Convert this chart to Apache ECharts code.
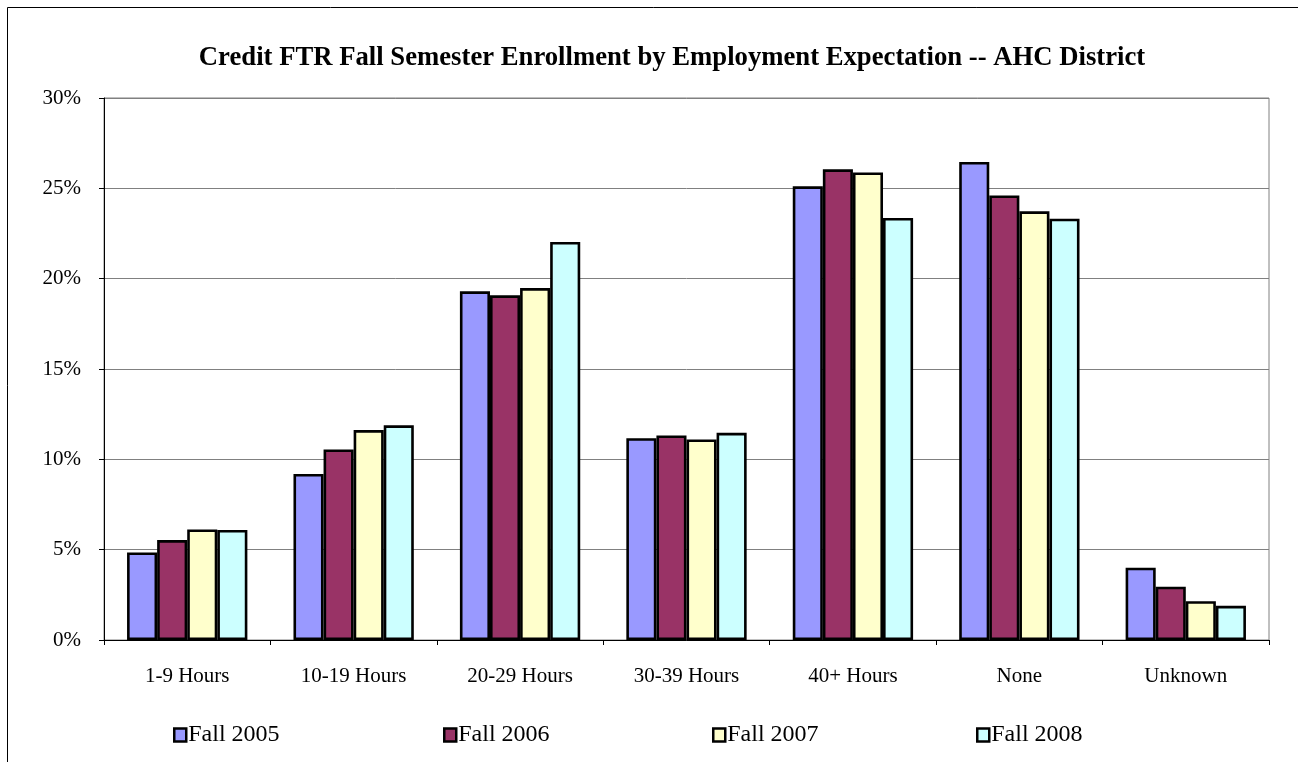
<!DOCTYPE html>
<html>
<head>
<meta charset="utf-8">
<script src="https://cdn.jsdelivr.net/npm/echarts@6/dist/echarts.min.js"></script>
<style>html,body{margin:0;padding:0;background:#fff}#c{width:1298px;height:762px}</style>
</head>
<body>
<div id="c"></div>
<script>
const categories = ['1-9 Hours','10-19 Hours','20-29 Hours','30-39 Hours','40+ Hours','None','Unknown'];
const fall2005 = [4.85, 9.19, 19.30, 11.17, 25.11, 26.46, 4.00];
const fall2006 = [5.53, 10.55, 19.08, 11.32, 26.05, 24.61, 2.95];
const fall2007 = [6.12, 11.62, 19.48, 11.10, 25.88, 23.73, 2.15];
const fall2008 = [6.09, 11.88, 22.03, 11.47, 23.36, 23.32, 1.89];
const seriesNames = ['Fall 2005','Fall 2006','Fall 2007','Fall 2008'];
const seriesColors = ['#9999FF','#993366','#FFFFCC','#CCFFFF'];
const yTicks = [0,5,10,15,20,25,30];

const font = 'Liberation Serif';
const chart = echarts.init(document.getElementById('c'));
const dataArr = [fall2005, fall2006, fall2007, fall2008];
const legendLeft = [173, 443, 712, 976];
chart.setOption({
  animation: false,
  backgroundColor: '#fff',
  textStyle: {fontFamily: font},
  graphic: [{type:'rect', shape:{x:7.5,y:7.5,width:1320,height:800}, style:{fill:'none',stroke:'#000',lineWidth:1}, silent:true}],
  title: {
    text: 'Credit FTR Fall Semester Enrollment by Employment Expectation -- AHC District',
    left: 667, textAlign: 'center', top: 40,
    textStyle: {fontFamily: font, fontSize: 26.7, fontWeight: 'bold', color: '#000'}
  },
  legend: seriesNames.map((n,i)=>({
    data:[{name:n, itemStyle:{borderColor:'#000', borderWidth:2.5}}],
    left: legendLeft[i], top: 723, padding:0, icon:'rect', itemWidth:12, itemHeight:13, itemGap:0,
    formatter: '{t|{name}}',
    textStyle:{fontFamily:font, fontSize:24, color:'#000', padding:[0,0,0,-3],
      rich:{t:{fontFamily:font, fontSize:24, color:'#000'}}},
    selectedMode:false
  })),
  grid: {left:104, right:29, top:98, bottom:122, show:true, borderColor:'#808080', borderWidth:1, containLabel:false},
  xAxis: {
    type:'category', data: categories,
    axisLine:{show:true, lineStyle:{color:'#000', width:1}},
    axisTick:{show:true, length:5, lineStyle:{color:'#000'}},
    axisLabel:{fontFamily:font, fontSize:21, color:'#000', margin:26},
    splitLine:{show:false}
  },
  yAxis: {
    type:'value', min:yTicks[0], max:yTicks[yTicks.length-1], interval:5,
    axisLine:{show:true, lineStyle:{color:'#000', width:1}},
    axisTick:{show:true, length:5, lineStyle:{color:'#000'}},
    axisLabel:{fontFamily:font, fontSize:21, color:'#000', margin:23, formatter: v => v + '%'},
    splitLine:{show:true, lineStyle:{color:'#808080', width:1}}
  },
  series: seriesNames.map((n,i)=>({
    name:n, type:'bar', data:dataArr[i],
    barGap:'0%', barCategoryGap:'27.7%',
    itemStyle:{color:seriesColors[i], borderColor:'#000', borderWidth:2.6}
  }))
});
</script>
</body>
</html>
